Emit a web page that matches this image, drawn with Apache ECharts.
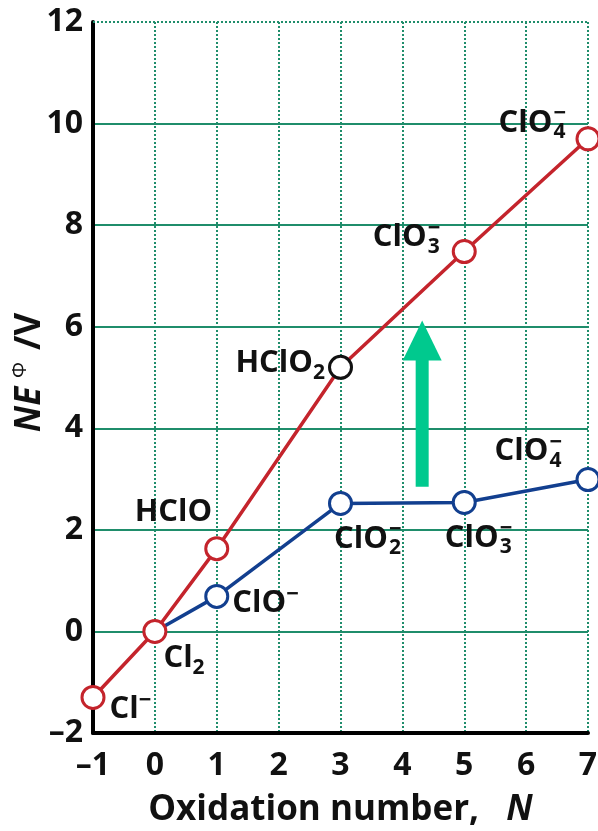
<!DOCTYPE html>
<html>
<head>
    <meta charset="UTF-8">
    <title>Frost diagram - chlorine</title>
    <script src="https://cdn.jsdelivr.net/npm/echarts@6/dist/echarts.min.js"></script>
    <style>
        html, body { margin: 0; padding: 0; background: #fff; }
    </style>
</head>
<body>
    <div id="frostBox" style="width: 598px;height:831px;"></div>

    <script>
        // oxidation number N and N*E values (V)
        var acidN = [-1, 0, 1, 3, 5, 7];
        var acidNE = [-1.3, 0, 1.63, 5.2, 7.48, 9.7];
        var acidNames = ['Cl-', 'Cl2', 'HClO', 'HClO2', 'ClO3-', 'ClO4-'];

        var baseN = [0, 1, 3, 5, 7];
        var baseNE = [0, 0.69, 2.52, 2.54, 2.99];
        var baseNames = ['Cl2', 'ClO-', 'ClO2-', 'ClO3-', 'ClO4-'];

        var xTicks = [-1, 0, 1, 2, 3, 4, 5, 6, 7];
        var yTicks = [-2, 0, 2, 4, 6, 8, 10, 12];

        // green arrow (shaft from, shaft to, head centre)
        var arrowN = 4.32;
        var arrowFrom = 2.85;
        var arrowTo = 5.35;
        var arrowHead = 5.73;

        var FONT = 'Open Sans';
        var RED = '#c4242c';
        var BLUE = '#123f8f';
        var GRID = '#1f8d6b';
        var ARROW = '#00c98e';

        // label texts, every piece a left aligned rich token
        var labelText = {
            'Cl-': '{m|Cl}{sp|\u2212}',
            'Cl2': '{m|Cl}{sub|2}',
            'HClO': '{m|HClO}',
            'HClO2': '{m|HClO}{sub|2}',
            'ClO-': '{m|ClO}{sp|\u2212}',
            'ClO2-': '{m|ClO}{sup|\u2212}{sub|2}',
            'ClO3-': '{m|ClO}{sup|\u2212}{sub|3}',
            'ClO4-': '{m|ClO}{sup|\u2212}{sub|4}'
        };

        var richStyle = {
            m: { fontSize: 31, fontWeight: 'bold', fontFamily: FONT, color: '#111', align: 'left', verticalAlign: 'middle', lineHeight: 40 },
            sub: { fontSize: 21, fontWeight: 'bold', fontFamily: FONT, color: '#111', align: 'left', verticalAlign: 'bottom', lineHeight: 40 },
            sup: { fontSize: 22, fontWeight: 'bold', fontFamily: FONT, color: '#111', align: 'left', verticalAlign: 'top', lineHeight: 34, width: 0, padding: [0, 0, 0, 1] },
            sp: { fontSize: 22, fontWeight: 'bold', fontFamily: FONT, color: '#111', align: 'left', verticalAlign: 'top', lineHeight: 34 }
        };

        function makeLabel(name, pos, offset) {
            return {
                show: true,
                position: pos,
                distance: 5,
                offset: offset,
                formatter: labelText[name],
                lineHeight: 40,
                rich: richStyle
            };
        }

        var acidLabel = [
            makeLabel('Cl-', 'right', [-1, 12]),
            makeLabel('Cl2', 'right', [-9, 27]),
            makeLabel('HClO', 'left', [13, -36]),
            makeLabel('HClO2', 'left', [2, -4]),
            makeLabel('ClO3-', 'left', [-7, -14]),
            makeLabel('ClO4-', 'left', [-5, -16])
        ];
        var baseLabel = [
            { show: false },
            makeLabel('ClO-', 'right', [-2, 7]),
            makeLabel('ClO2-', 'bottom', [27, -2]),
            makeLabel('ClO3-', 'bottom', [14, -2]),
            makeLabel('ClO4-', 'left', [-9, -28])
        ];

        var acidData = acidN.map(function (n, i) {
            var item = { value: [n, acidNE[i]], name: acidNames[i], label: acidLabel[i] };
            if (acidNames[i] === 'HClO2') {
                item.itemStyle = { borderColor: '#111' };
            }
            return item;
        });
        var baseData = baseN.map(function (n, i) {
            var item = { value: [n, baseNE[i]], name: baseNames[i], label: baseLabel[i] };
            if (i === 0) item.symbol = 'none';
            return item;
        });

        var myChart = echarts.init(document.getElementById('frostBox'));

        var option = {
            backgroundColor: '#fff',
            animation: false,
            grid: { left: 93, right: 10, top: 22, bottom: 98, containLabel: false, outerBoundsMode: 'none' },
            xAxis: {
                type: 'value',
                min: xTicks[0],
                max: xTicks[xTicks.length - 1],
                interval: 1,
                axisLine: { onZero: false, lineStyle: { color: '#000', width: 4 } },
                axisTick: { show: false },
                axisLabel: {
                    margin: 17,
                    fontSize: 32,
                    fontWeight: 'bold',
                    fontFamily: FONT,
                    color: '#111',
                    formatter: function (v) { return String(v).replace('-', '\u2013'); }
                },
                splitLine: { show: true, lineStyle: { color: GRID, width: 2, type: [2, 2] } },
                name: '{t|Oxidation number,   }{n|N}',
                nameLocation: 'middle',
                nameGap: 60,
                nameMoveOverlap: false,
                nameTextStyle: {
                    rich: {
                        t: { fontSize: 35, fontWeight: 'bold', fontFamily: FONT, color: '#111' },
                        n: { fontSize: 35, fontWeight: 'bold', fontStyle: 'italic', fontFamily: FONT, color: '#111' }
                    }
                }
            },
            yAxis: {
                type: 'value',
                min: yTicks[0],
                max: yTicks[yTicks.length - 1],
                interval: 2,
                axisLine: { show: true, onZero: false, lineStyle: { color: '#000', width: 4 } },
                axisTick: { show: false },
                axisLabel: {
                    margin: 10,
                    fontSize: 32,
                    fontWeight: 'bold',
                    fontFamily: FONT,
                    color: '#111',
                    formatter: function (v) { return String(v).replace('-', '\u2013'); }
                },
                splitLine: { show: true, showMaxLine: false, lineStyle: { color: GRID, width: 2 } },
                name: '{i|NE}{s|\u03A6}{n|/V}',
                nameLocation: 'middle',
                nameGap: 43,
                nameRotate: 90,
                nameMoveOverlap: false,
                nameTextStyle: {
                    padding: [0, 0, 0, 10],
                    rich: {
                        i: { fontSize: 35, fontWeight: 'bold', fontStyle: 'italic', fontFamily: FONT, color: '#111', lineHeight: 40, padding: [0, 9, 0, 0] },
                        s: { fontSize: 20, fontFamily: FONT, color: '#111', verticalAlign: 'top', lineHeight: 30, padding: [0, 12, 0, 0] },
                        n: { fontSize: 35, fontWeight: 'bold', fontFamily: FONT, color: '#111', lineHeight: 40 }
                    }
                }
            },
            series: [
                {
                    name: 'arrow',
                    type: 'line',
                    silent: true,
                    showSymbol: false,
                    lineStyle: { color: ARROW, width: 13, cap: 'butt' },
                    data: [[arrowN, arrowFrom], [arrowN, arrowTo]],
                    markLine: {
                        silent: true,
                        symbol: 'none',
                        label: { show: false },
                        lineStyle: { color: GRID, width: 2, type: [2, 2] },
                        data: [{ yAxis: yTicks[yTicks.length - 1] }]
                    }
                },
                {
                    name: 'arrowHead',
                    type: 'scatter',
                    silent: true,
                    symbol: 'triangle',
                    symbolSize: [39, 40],
                    itemStyle: { color: ARROW, opacity: 1 },
                    data: [[arrowN, arrowHead]]
                },
                {
                    name: 'basic',
                    type: 'line',
                    symbol: 'circle',
                    symbolSize: 22,
                    lineStyle: { color: BLUE, width: 3.5 },
                    itemStyle: { color: '#fff', borderColor: BLUE, borderWidth: 3 },
                    data: baseData
                },
                {
                    name: 'acid',
                    type: 'line',
                    symbol: 'circle',
                    symbolSize: 22,
                    lineStyle: { color: RED, width: 3.5 },
                    itemStyle: { color: '#fff', borderColor: RED, borderWidth: 3 },
                    data: acidData
                }
            ]
        };

        myChart.setOption(option);
    </script>
</body>
</html>
